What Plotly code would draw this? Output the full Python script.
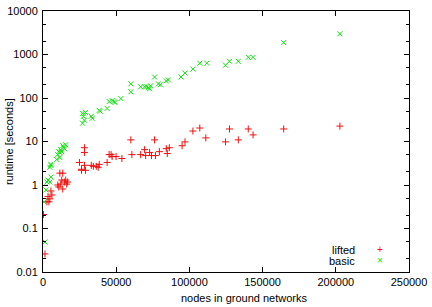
import plotly.graph_objects as go

# lifted (red +)
lifted_nodes = [300, 1350, 2700, 3400, 5400, 6100, 4000, 4700, 11500, 13500,
                10100, 12800, 14800, 16200, 13500, 16800, 10800, 12100, 15500,
                24900, 28300, 26300, 29000, 33000, 36400, 38400, 37700, 34400,
                43800, 46500, 47200, 49900, 53900, 28300, 28300, 26300, 45200,
                60000, 60700, 66700, 69400, 70100, 72800, 74100, 76200, 76800,
                79500, 84200, 84900, 86300, 95000, 97000, 102400, 107100, 111200,
                124700, 127400, 133400, 140200, 143500, 164400, 202800]
lifted_time = [0.21, 0.026, 0.41, 0.54, 0.73, 0.59, 0.41, 0.48, 1.87, 1.87,
               1.0, 1.30, 1.17, 1.05, 0.81, 1.17, 0.90, 1.05, 1.30,
               3.3, 2.83, 2.18, 2.18, 2.83, 2.69, 2.98, 2.55, 2.69,
               3.3, 5.0, 4.5, 4.5, 4.07, 7.2, 5.6, 2.3, 5.0,
               10.9, 5.0, 5.0, 6.5, 4.75, 5.6, 4.75, 10.9, 4.75,
               5.85, 6.84, 5.28, 7.2, 8.0, 9.8, 17.4, 20.4, 12.1,
               9.8, 19.4, 10.9, 19.4, 14.2, 19.4, 22.6]

# basic (green x)
basic_nodes = [1350, 700, 2000, 2700, 3400, 4700, 5400, 5400, 4700, 5400,
               10100, 11500, 12100, 13500, 15500, 11500, 14200, 12800, 14800,
               9400, 10800, 27000, 27000, 27600, 28300, 29000, 33000, 33700,
               38400, 39100, 43800, 45200, 47200, 48500, 49200, 53200, 60000,
               60000, 66700, 69400, 70800, 72800, 73500, 72100, 76200, 78800,
               80200, 84200, 85600, 94300, 97000, 102400, 107100, 111900,
               124700, 127400, 133400, 140200, 143500, 164400, 202800]
basic_time = [0.049, 0.41, 0.77, 1.17, 1.30, 1.17, 1.52, 2.83, 2.55, 2.98,
              5.0, 4.28, 6.5, 8.0, 8.4, 5.6, 7.2, 5.85, 6.84,
              3.86, 5.85, 26.4, 44.4, 38.0, 30.9, 46.8, 38.0, 34.3,
              52.0, 49.6, 57.6, 83.0, 87.4, 83.0, 78.7, 96.9, 139,
              211, 181, 181, 181, 163, 190, 172, 304, 211,
              201, 247, 260, 304, 374, 461, 630, 630,
              568, 699, 699, 860, 860, 1877, 2995]

x_ticks = [0, 50000, 100000, 150000, 200000, 250000]
y_ticks = [0.01, 0.1, 1, 10, 100, 1000, 10000]
y_ticklabels = ["0.01", "0.1", "1", "10", "100", "1000", "10000"]

RED = "#f01010"
GREEN = "#10e010"
FONT = "Liberation Sans, Arial, sans-serif"

fig = go.Figure()
fig.add_trace(go.Scatter(
    x=lifted_nodes, y=lifted_time, mode="markers", name="lifted",
    marker=dict(symbol="cross-thin", size=5, line=dict(color=RED, width=1), color=RED),
))
fig.add_trace(go.Scatter(
    x=basic_nodes, y=basic_time, mode="markers", name="basic",
    marker=dict(symbol="x-thin", size=5, line=dict(color=GREEN, width=1), color=GREEN),
))

axis_common = dict(
    showline=True, linecolor="black", linewidth=1, mirror="allticks",
    ticks="inside", ticklen=5, tickcolor="black", showgrid=False, zeroline=False,
    tickfont=dict(family=FONT, size=11, color="black"),
    ticklabeloverflow="allow",
)

fig.update_xaxes(range=[0, 250000], tickvals=x_ticks,
                 ticktext=[str(v) for v in x_ticks], **axis_common)
fig.update_yaxes(type="log", range=[-2, 4], tickvals=y_ticks, ticktext=y_ticklabels,
                 ticklabelstandoff=2,
                 minor=dict(ticks="inside", ticklen=3, tickcolor="black",
                            tickvals=[m * 10 ** e for e in range(-2, 4) for m in (2, 5)]),
                 **axis_common)

annotations = [
    dict(text="nodes in ground networks", xref="paper", yref="paper",
         x=0.55, y=-0.101, xanchor="center", yanchor="middle", showarrow=False,
         font=dict(family=FONT, size=11, color="black")),
    dict(text="runtime [seconds]", xref="paper", yref="paper",
         x=-0.094, y=0.5, xanchor="center", yanchor="middle", textangle=-90,
         showarrow=False, font=dict(family=FONT, size=11, color="black")),
    dict(text="lifted", xref="paper", yref="paper", x=0.857, y=0.083,
         xanchor="right", yanchor="middle", showarrow=False,
         font=dict(family=FONT, size=11, color="black")),
    dict(text="basic", xref="paper", yref="paper", x=0.857, y=0.042,
         xanchor="right", yanchor="middle", showarrow=False,
         font=dict(family=FONT, size=11, color="black")),
    dict(text="+", xref="paper", yref="paper", x=0.92, y=0.085,
         xanchor="center", yanchor="middle", showarrow=False,
         font=dict(family=FONT, size=10, color=RED)),
    dict(text="×", xref="paper", yref="paper", x=0.92, y=0.044,
         xanchor="center", yanchor="middle", showarrow=False,
         font=dict(family=FONT, size=10, color=GREEN)),
]

fig.update_layout(
    width=432, height=307,
    margin=dict(l=43, r=18, t=5, b=35),
    paper_bgcolor="white", plot_bgcolor="white",
    showlegend=False,
    annotations=annotations,
    font=dict(family=FONT, size=11, color="black"),
)

fig.write_html("out.html")
